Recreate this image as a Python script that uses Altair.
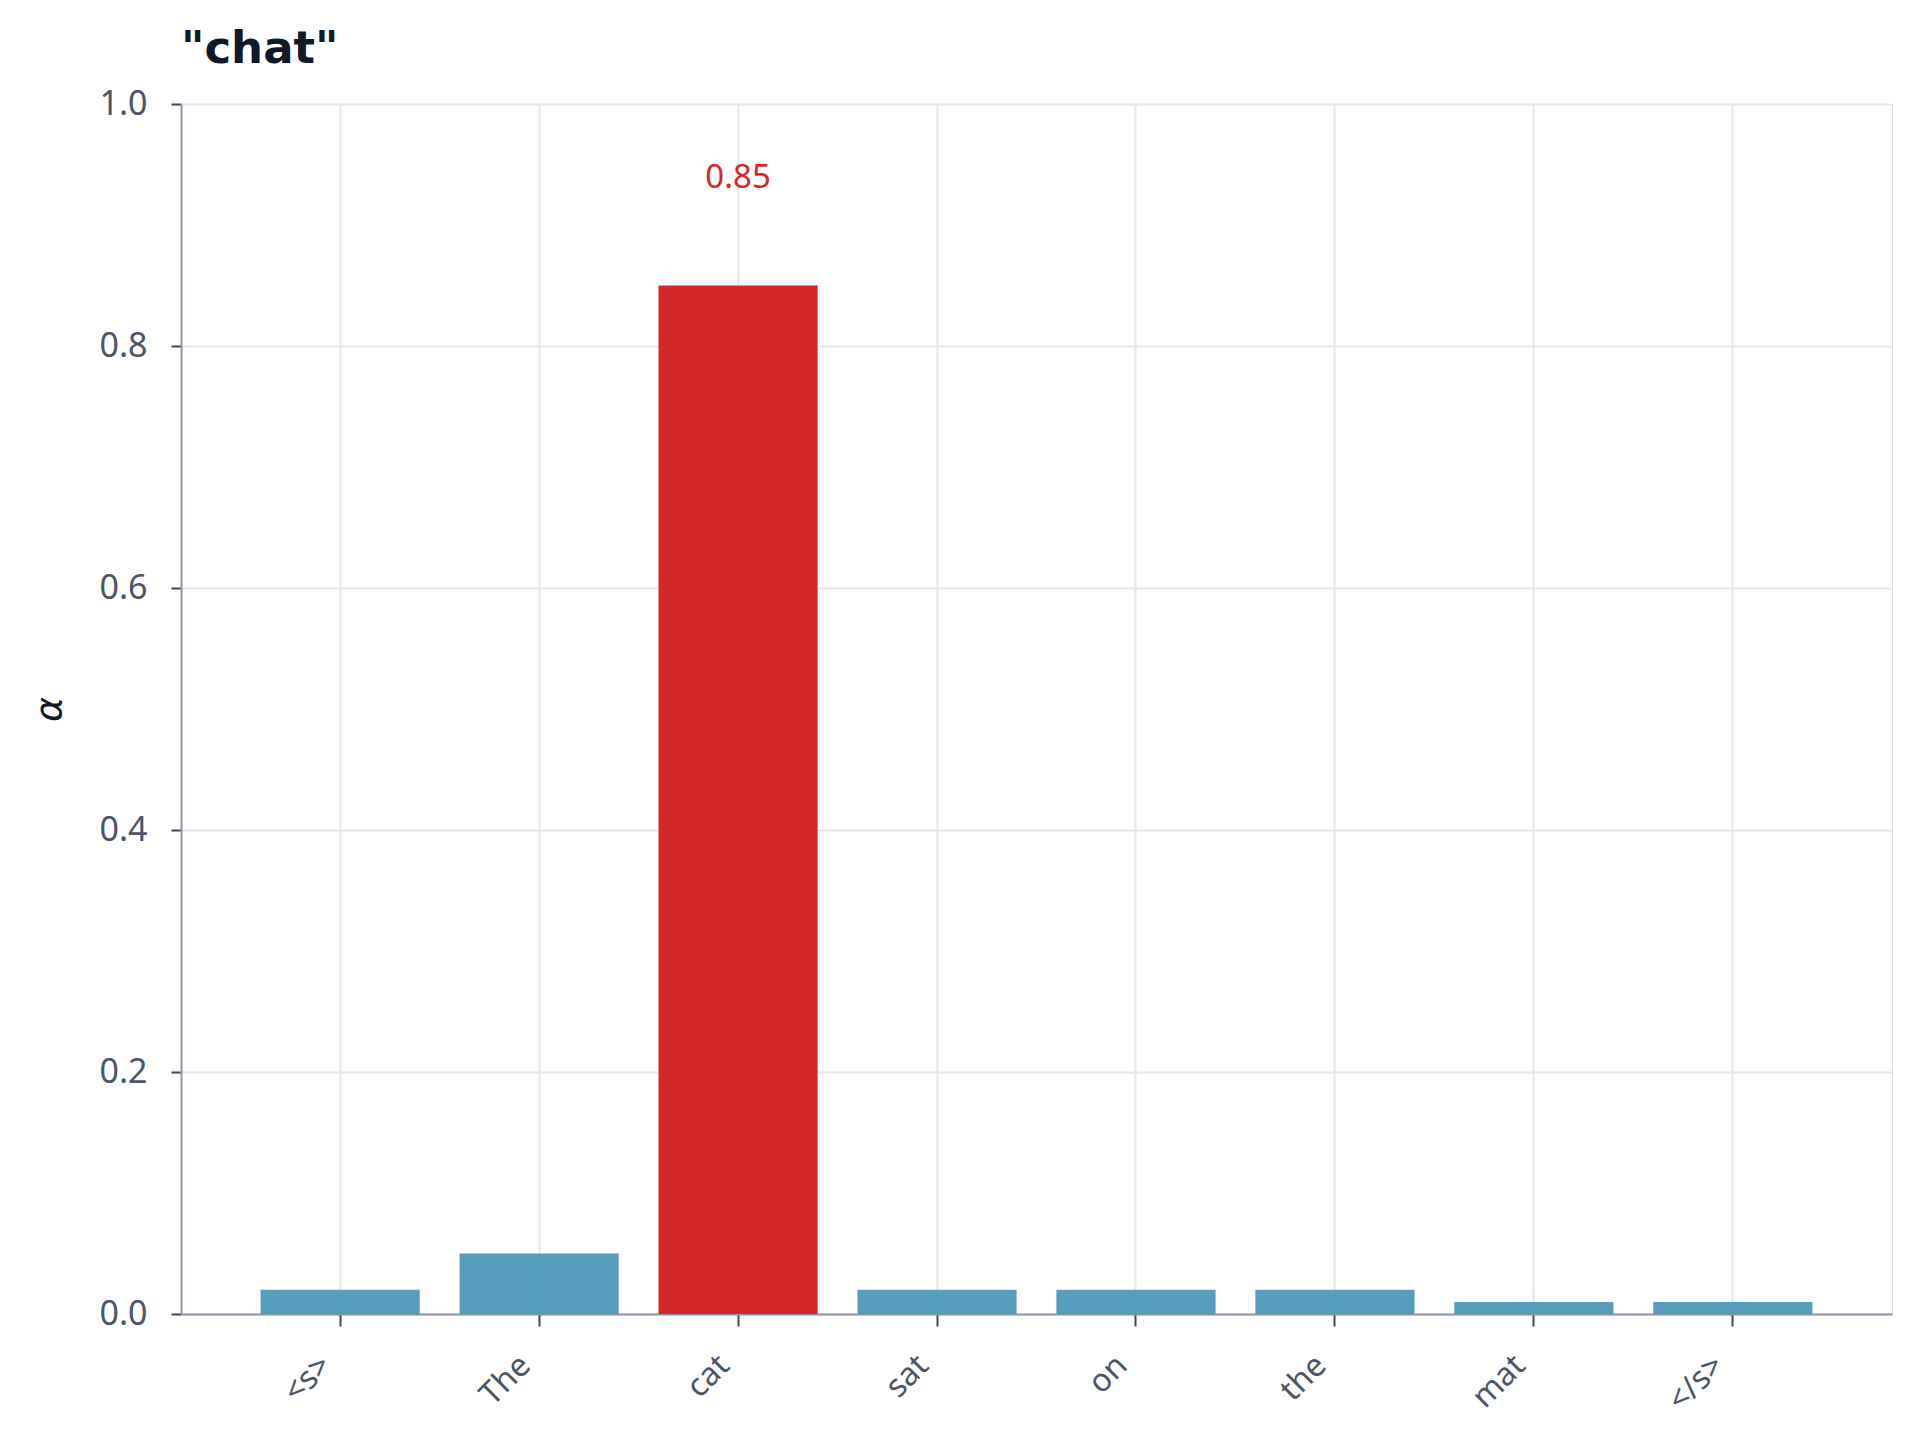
import altair as alt
import pandas as pd

tokens = ["<s>", "The", "cat", "sat", "on", "the", "mat", "</s>"]
weights = [0.02, 0.05, 0.85, 0.02, 0.02, 0.02, 0.01, 0.01]
highlight = [False, False, True, False, False, False, False, False]
title_text = '"chat"'
y_ticks = [0.0, 0.2, 0.4, 0.6, 0.8, 1.0]

df = pd.DataFrame({"token": tokens, "weight": weights, "hl": highlight})
df["label"] = [f"{w:.2f}" for w in weights]

FONT = "Noto Sans"
BLUE = "#3a8db3"
RED = "#d62728"

x_enc = alt.X(
    "token:N",
    sort=tokens,
    title=None,
    scale=alt.Scale(paddingInner=0.2, paddingOuter=0.4),
    axis=alt.Axis(
        labelAngle=-45,
        labelAlign="right",
        labelBaseline="middle",
        labelPadding=34,
        labelOffset=-14,
        labelFontSize=32,
        labelFont=FONT,
        labelColor="#4a5568",
        tickSize=12,
        tickWidth=2,
        tickColor="#3f4756",
        domainColor="#8b96ab",
        domainWidth=2,
        grid=True,
        gridColor="#e3e8ee",
        gridWidth=2,
        bandPosition=0.5,
    ),
)

y_enc = alt.Y(
    "weight:Q",
    title="α",
    scale=alt.Scale(domain=[0, 1], nice=False),
    axis=alt.Axis(
        values=y_ticks,
        format=".1f",
        labelFontSize=34,
        labelFont=FONT,
        labelColor="#4a5568",
        labelPadding=24,
        tickSize=10,
        tickWidth=2,
        tickColor="#3f4756",
        domainColor="#8b96ab",
        domainWidth=2,
        gridColor="#e3e8ee",
        gridWidth=2,
        titleFont="DejaVu Sans",
        titleFontSize=38,
        titleFontWeight="normal",
        titleFontStyle="italic",
        titleColor="#111827",
        titleAngle=-90,
        titleAlign="center",
        titleBaseline="middle",
        titleX=-132,
        titleY=605,
    ),
)

bars = alt.Chart(df).mark_bar().encode(
    x=x_enc,
    y=y_enc,
    color=alt.condition("datum.hl", alt.value(RED), alt.value(BLUE)),
    opacity=alt.condition("datum.hl", alt.value(1.0), alt.value(0.85)),
)

labels = (
    alt.Chart(df)
    .transform_filter("datum.hl")
    .mark_text(font=FONT, fontSize=33, color=RED, baseline="alphabetic", dy=-98)
    .encode(x=alt.X("token:N", sort=tokens), y="weight:Q", text="label:N")
)

chart = (
    alt.layer(bars, labels)
    .properties(
        width=1711,
        height=1210,
        title=alt.TitleParams(
            text=title_text,
            anchor="start",
            frame="group",
            font="DejaVu Sans",
            fontSize=45,
            fontWeight="bold",
            color="#111827",
            baseline="bottom",
            offset=14,
            dy=44,
        ),
        autosize=alt.AutoSizeParams(type="none"),
        padding={"left": 173, "top": 96, "right": 20, "bottom": 120},
    )
    .configure_view(stroke=None)
    .configure(background="white")
)

chart.save("out.html", embed_options={"renderer": "svg", "actions": False})
